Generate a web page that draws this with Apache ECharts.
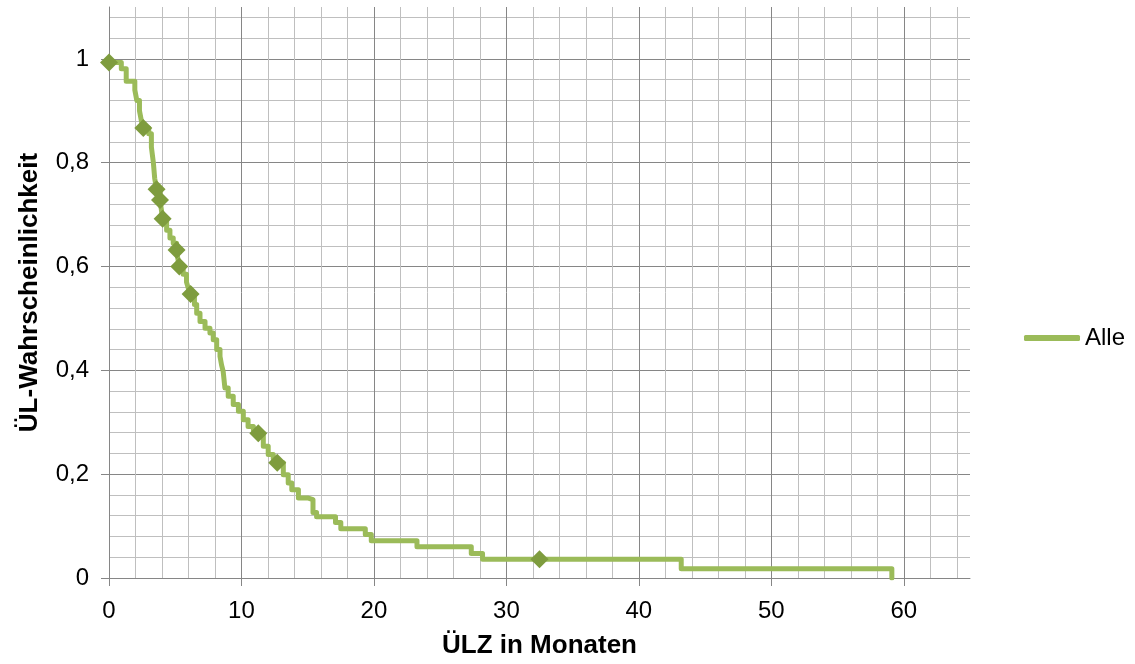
<!DOCTYPE html>
<html>
<head>
<meta charset="utf-8">
<script src="https://cdn.jsdelivr.net/npm/echarts@6/dist/echarts.min.js"></script>
<style>
  html, body { margin: 0; padding: 0; background: #fff; }
  #chart { width: 1135px; height: 664px; }
</style>
</head>
<body>
<div id="chart"></div>
<script>
// Kaplan-Meier survival estimate: event times (months) and survival after each drop
const eventTimes = [0, 0.93, 1.3, 1.95, 2.1, 2.3, 2.45, 2.59, 3.0, 3.2, 3.35, 3.45, 3.59, 3.85, 3.95, 4.05,
  4.35, 4.6, 4.85, 5.1, 5.2, 5.31, 5.6, 5.85, 6.0, 6.16, 6.45, 6.62, 6.87, 7.25, 7.62, 7.87, 8.13,
  8.38, 8.5, 8.62, 8.75, 9.0, 9.38, 9.77, 10.14, 10.5, 10.9, 11.27, 11.65, 12.02, 12.4, 12.7, 13.16,
  13.53, 13.8, 14.3, 15.05, 15.4, 15.67, 17.1, 17.5, 19.35, 19.8, 23.25, 27.35, 28.2, 43.2, 59.1];
const survival = [0.993, 0.981, 0.957, 0.94, 0.92, 0.9, 0.88, 0.867, 0.856, 0.83, 0.8, 0.77, 0.749, 0.728,
  0.71, 0.692, 0.67, 0.655, 0.645, 0.632, 0.615, 0.6, 0.585, 0.57, 0.557, 0.547, 0.527, 0.51, 0.494,
  0.481, 0.472, 0.459, 0.44, 0.427, 0.41, 0.398, 0.366, 0.35, 0.334, 0.321, 0.305, 0.292, 0.285, 0.279,
  0.254, 0.238, 0.23, 0.222, 0.199, 0.183, 0.17, 0.154, 0.151, 0.126, 0.118, 0.107, 0.095, 0.084, 0.072,
  0.06, 0.047, 0.036, 0.018, 0];

// Censored observations (diamond markers)
const censorTimes = [0, 2.59, 3.59, 3.85, 4.05, 5.1, 5.31, 6.16, 11.27, 12.7, 32.5];
const censorSurvival = [0.993, 0.867, 0.749, 0.728, 0.692, 0.632, 0.6, 0.547, 0.279, 0.222, 0.036];

// Axis ticks
const xTicks = [0, 10, 20, 30, 40, 50, 60];
const yTicks = [0, 0.2, 0.4, 0.6, 0.8, 1];

const seriesName = 'Alle';
const xTitle = 'ÜLZ in Monaten';
const yTitle = 'ÜL-Wahrscheinlichkeit';

const FONT = "'Liberation Sans', Arial, Helvetica, sans-serif";
const MAJOR = '#868686';
const MINOR = '#BFBFBF';
const minorCycle = [MAJOR, MINOR, MINOR, MINOR, MINOR];

const curve = eventTimes.map((t, i) => [t, survival[i]]);
const censored = censorTimes.map((t, i) => [t, censorSurvival[i]]);

const chart = echarts.init(document.getElementById('chart'), null, { renderer: 'canvas' });

chart.setOption({
  animation: false,
  backgroundColor: '#ffffff',
  textStyle: { fontFamily: FONT },
  grid: { left: 109, right: 165, top: 7, bottom: 84, containLabel: false },
  legend: {
    data: [{ name: seriesName, icon: 'roundRect' }],
    left: 1024,
    top: 326,
    itemWidth: 56,
    itemHeight: 6,
    itemGap: 0,
    padding: 0,
    textStyle: { fontFamily: FONT, fontSize: 24, color: '#000' }
  },
  xAxis: [
    {
      // gridlines every 2 months, darker every 10
      type: 'value', min: 0, max: 65, interval: 2,
      axisLine: { show: false }, axisTick: { show: false }, axisLabel: { show: false },
      splitLine: { show: true, showMaxLine: false, lineStyle: { color: minorCycle, width: 1 } }
    },
    {
      type: 'value', min: 0, max: 65, interval: 10, position: 'bottom',
      axisLine: { show: true, lineStyle: { color: MAJOR, width: 1 } },
      axisTick: { show: true, length: 8, customValues: xTicks, lineStyle: { color: MAJOR, width: 1 } },
      axisLabel: { show: true, customValues: xTicks, fontSize: 24, color: '#000', margin: 21, fontFamily: FONT },
      splitLine: { show: false },
      name: xTitle, nameLocation: 'middle', nameGap: 55,
      nameTextStyle: { fontSize: 26, fontWeight: 'bold', color: '#000', fontFamily: FONT }
    }
  ],
  yAxis: [
    {
      // gridlines every 0.04, darker every 0.2
      type: 'value', min: 0, max: 1.1, interval: 0.04,
      axisLine: { show: false }, axisTick: { show: false }, axisLabel: { show: false },
      splitLine: { show: true, showMaxLine: false, lineStyle: { color: minorCycle, width: 1 } }
    },
    {
      type: 'value', min: 0, max: 1.1, interval: 0.2, position: 'left',
      axisLine: { show: true, lineStyle: { color: MAJOR, width: 1 } },
      axisTick: { show: true, length: 8, customValues: yTicks, lineStyle: { color: MAJOR, width: 1 } },
      axisLabel: {
        show: true, customValues: yTicks, fontSize: 24, color: '#000', margin: 20, fontFamily: FONT,
        formatter: v => String(v).replace('.', ',')
      },
      splitLine: { show: false },
      name: yTitle, nameLocation: 'middle', nameGap: 66, nameRotate: 90,
      nameTextStyle: { fontSize: 26, fontWeight: 'bold', color: '#000', fontFamily: FONT }
    }
  ],
  series: [
    {
      name: seriesName,
      type: 'line',
      xAxisIndex: 0, yAxisIndex: 0,
      step: 'end',
      data: curve,
      showSymbol: false,
      symbol: 'none',
      lineStyle: { color: '#9BBB59', width: 5, cap: 'round', join: 'round' },
      itemStyle: { color: '#9BBB59' },
      z: 3
    },
    {
      name: 'censored',
      type: 'scatter',
      xAxisIndex: 0, yAxisIndex: 0,
      data: censored,
      symbol: 'diamond',
      symbolSize: [18, 18],
      itemStyle: { color: '#7E9C3E', opacity: 1 },
      z: 4
    }
  ]
});
</script>
</body>
</html>
